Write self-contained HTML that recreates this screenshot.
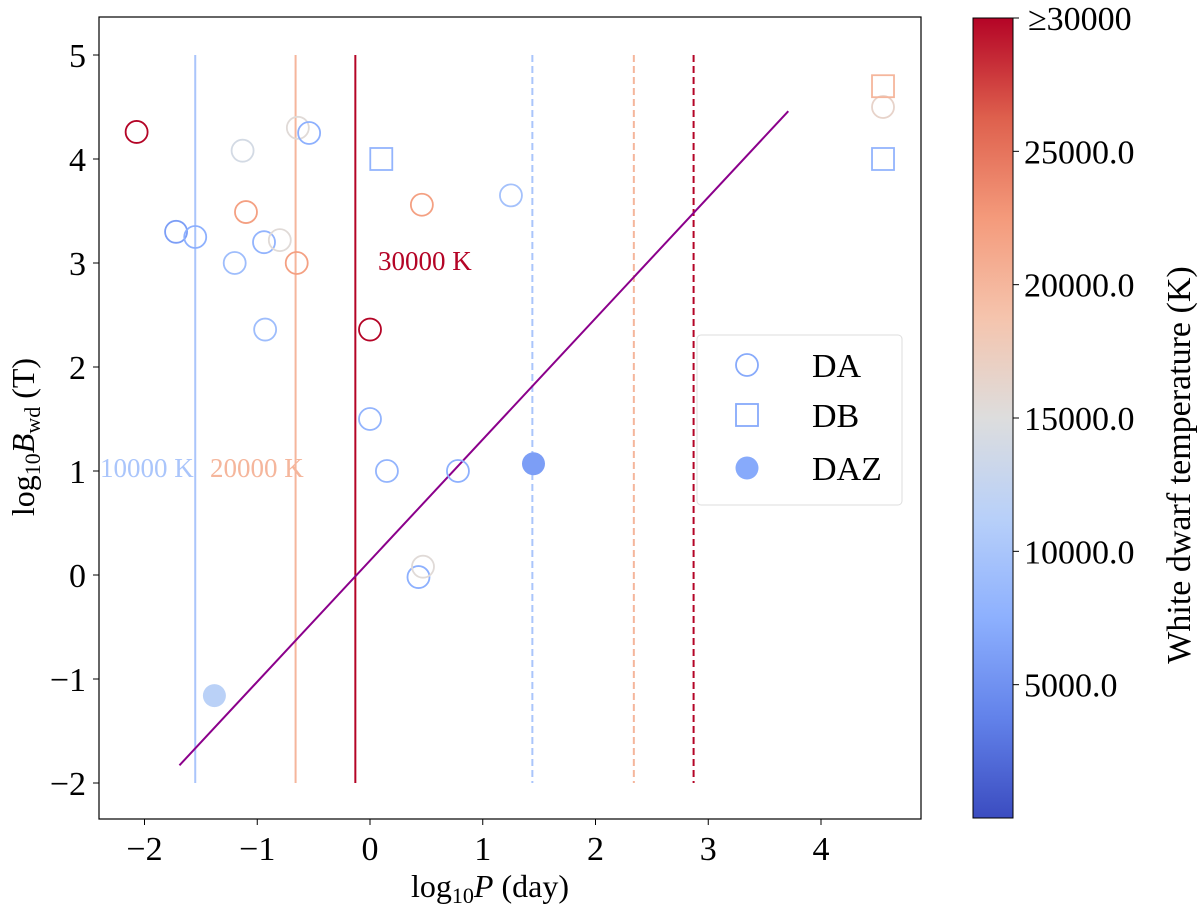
<!DOCTYPE html>
<html><head><meta charset="utf-8"><style>
body{margin:0;background:#fff}
svg{font-family:"Liberation Serif",serif}
</style></head><body>
<svg id="c" width="1200" height="911"></svg>
<script>
const daX=[-2.07,-1.72,-1.55,-1.13,-1.10,-1.20,-0.94,-0.80,-0.64,-0.54,-0.65,-0.93,0.00,0.00,0.15,0.78,0.46,1.25,0.43,0.47,4.55];
const daY=[4.26,3.30,3.25,4.08,3.49,3.00,3.20,3.22,4.30,4.25,3.00,2.36,2.36,1.50,1.00,1.00,3.56,3.65,-0.02,0.08,4.50];
const daT=[30000,6000,7500,14000,22000,9000,8000,15500,15500,7500,22000,9000,30000,8000,8000,7500,22000,9500,7500,15500,16500];
const dbX=[0.10,4.55,4.55];
const dbY=[4.00,4.70,4.00];
const dbT=[8000,20000,8000];
const dazX=[1.45,-1.38];
const dazY=[1.07,-1.16];
const dazT=[6000,11500];
const solidX=[-1.55,-0.66,-0.13];
const dashX=[1.44,2.34,2.87];
const lineT=[10000,20000,30000];
const fitX=[-1.69,3.71];
const fitY=[-1.83,4.46];
const xTicks=[-2,-1,0,1,2,3,4];
const yTicks=[-2,-1,0,1,2,3,4,5];
const cbTicks=[5000,10000,15000,20000,25000];

const svg=document.getElementById('c');const NS='http://www.w3.org/2000/svg';
function mk(t,a,p){const e=document.createElementNS(NS,t);for(const k in a)e.setAttribute(k,a[k]);(p||svg).appendChild(e);return e;}
const L=99,R=921,T=17,B=819;
const sx=v=>370+v*112.75;
const sy=v=>575-v*104;
const stops=[[59,76,192],[98,130,234],[141,176,254],[184,208,249],[221,221,221],[245,196,173],[244,154,123],[222,96,77],[180,4,38]];
function cmap(T0){let t=Math.max(0,Math.min(1,T0/30000))*8;const i=Math.min(7,Math.floor(t)),f=t-i;const a=stops[i],b=stops[i+1];return `rgb(${a.map((v,k)=>Math.round(v+(b[k]-v)*f)).join(',')})`;}
const cbY=v=>818-v*(800/30000);

let e=mk('rect',{x:L,y:T,width:R-L,height:B-T,fill:'none',stroke:'#000','stroke-width':1.2});

xTicks.forEach(v=>{const x=sx(v);mk('line',{x1:x,x2:x,y1:B,y2:B+6,stroke:'#000'});
 let t=mk('text',{x:x,y:B+41,'text-anchor':'middle','font-size':34});t.textContent=v<0?'−'+(-v):v;
 });
yTicks.forEach(v=>{const y=sy(v);mk('line',{x1:L-6,x2:L,y1:y,y2:y,stroke:'#000'});
 let t=mk('text',{x:L-13,y:y+12,'text-anchor':'end','font-size':34});t.textContent=v<0?'−'+(-v):v;
 });
let xt=mk('text',{x:490,y:897,'text-anchor':'middle','font-size':32});
xt.innerHTML='log<tspan font-size="22" dy="6">10</tspan><tspan dy="-6" font-style="italic">P</tspan> (day)';

let yt=mk('text',{x:0,y:0,'text-anchor':'middle','font-size':32,transform:'translate(34,437) rotate(-90)'});
yt.innerHTML='log<tspan font-size="22" dy="6">10</tspan><tspan dy="-6" font-style="italic">B</tspan><tspan font-size="22" dy="6">wd</tspan><tspan dy="-6"> (T)</tspan>';


solidX.forEach((v,i)=>{let l=mk('line',{x1:sx(v),x2:sx(v),y1:sy(5),y2:sy(-2),stroke:cmap(lineT[i]),'stroke-width':2});
 });
dashX.forEach((v,i)=>{let l=mk('line',{x1:sx(v),x2:sx(v),y1:sy(5),y2:sy(-2),stroke:cmap(lineT[i]),'stroke-width':2,'stroke-dasharray':'7,4'});
 });
[['10000 K',100,477,10000],['20000 K',210,477,20000],['30000 K',378,270,30000]].forEach(a=>{
 let t=mk('text',{x:a[1],y:a[2],'font-size':27,fill:cmap(a[3])});t.textContent=a[0];
 });
let fl=mk('line',{x1:sx(fitX[0]),y1:sy(fitY[0]),x2:sx(fitX[1]),y2:sy(fitY[1]),stroke:'#8b008b','stroke-width':2});

daX.forEach((v,i)=>{let c=mk('circle',{cx:sx(v),cy:sy(daY[i]),r:11,fill:'none',stroke:cmap(daT[i]),'stroke-width':1.8});
 });
dbX.forEach((v,i)=>{let c=mk('rect',{x:sx(v)-11,y:sy(dbY[i])-11,width:22,height:22,fill:'none',stroke:cmap(dbT[i]),'stroke-width':1.8});
 });
dazX.forEach((v,i)=>{let c=mk('circle',{cx:sx(v),cy:sy(dazY[i]),r:11.5,fill:cmap(dazT[i])});
 });
let lg=mk('rect',{x:697,y:335,width:205,height:170,rx:4,fill:'#fff',stroke:'#ddd'});

const lc=cmap(7000);
mk('circle',{cx:747,cy:365,r:11,fill:'none',stroke:lc,'stroke-width':1.8});
mk('rect',{x:736,y:404,width:22,height:22,fill:'none',stroke:lc,'stroke-width':1.8});
mk('circle',{cx:747,cy:468,r:11.5,fill:lc});
[['DA',365],['DB',415],['DAZ',468]].forEach(a=>{let t=mk('text',{x:812,y:a[1]+12,'font-size':34});t.textContent=a[0];
 });
const defs=mk('defs',{});const g=mk('linearGradient',{id:'cg',x1:0,y1:1,x2:0,y2:0},defs);
for(let k=0;k<=8;k++)mk('stop',{offset:k/8,'stop-color':cmap(k*3750)},g);
let cb=mk('rect',{x:973,y:cbY(30000),width:40,height:cbY(0)-cbY(30000),fill:'url(#cg)',stroke:'#000','stroke-width':1});

cbTicks.forEach(v=>{const y=cbY(v);mk('line',{x1:1013,x2:1019,y1:y,y2:y,stroke:'#000'});
 let t=mk('text',{x:1024,y:y+12,'font-size':34});t.textContent=v.toFixed(1);
 });
mk('line',{x1:1013,x2:1019,y1:cbY(30000),y2:cbY(30000),stroke:'#000'});
let tt=mk('text',{x:1028,y:cbY(30000)+12,'font-size':34});tt.textContent='≥30000';

let cl=mk('text',{x:0,y:0,'text-anchor':'middle','font-size':34,transform:'translate(1190,465) rotate(-90)'});
cl.textContent='White dwarf temperature (K)';

</script>
</body></html>
